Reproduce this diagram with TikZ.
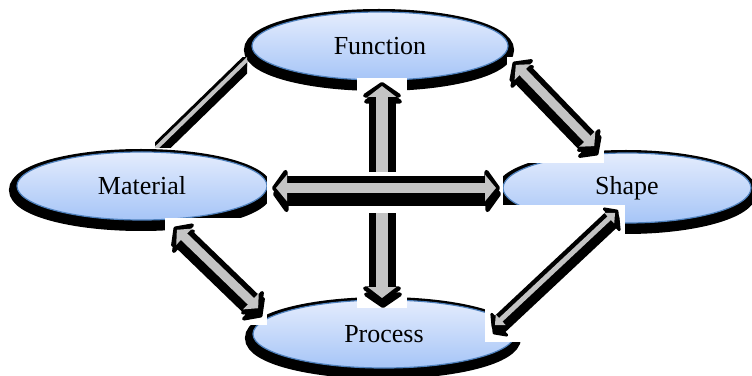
\documentclass[tikz,border=0pt]{standalone}
\usepackage{fontspec}
\setmainfont{Liberation Serif}
\usetikzlibrary{shapes.geometric,arrows.meta}

\definecolor{bubbletop}{RGB}{228,236,253}
\definecolor{bubblebottom}{RGB}{166,197,247}
\definecolor{bubbleedge}{RGB}{79,129,189}
\definecolor{coregray}{RGB}{196,196,196}

\begin{document}
\begin{tikzpicture}[x=1pt, y=1pt,
            every node/.style={font=\fontsize{26}{30}\selectfont},
            bubble/.style={ellipse, inner sep=0pt, draw=bubbleedge, line width=1.2pt,
                top color=bubbletop, bottom color=bubblebottom,
                preaction={draw=black, fill=black, line width=14pt,
                    transform canvas={shift={(-1pt,-4pt)}}}},
            gap/.style={fill=white},
            casing/.style n args={3}{draw=black, line width=#1,
                {Triangle[width=#2,length=#3,round]}-{Triangle[width=#2,length=#3,round]}},
            lifted/.style={transform canvas={shift={(1pt,-6pt)}}},
            core/.style n args={3}{draw=coregray, line width=#1,
                {Triangle[width=#2,length=#3]}-{Triangle[width=#2,length=#3]},
                shorten <=4pt, shorten >=4pt}]

    \useasboundingbox (0,0) rectangle (752,375);

    % the four ellipses
    \node[bubble, minimum width=256, minimum height=68] (fun) at (380,329) {Function};
    \node[bubble, minimum width=250, minimum height=68] (mat) at (142,189) {Material};
    \node[bubble, minimum width=248, minimum height=70] (shp) at (627,187) {Shape};
    \node[bubble, minimum width=262, minimum height=68] (pro) at (384,41) {Process};

    % arrow ends
    \coordinate (fm-a) at (258,326);
    \coordinate (fm-b) at (146,217);
    \coordinate (fs-a) at (513,313);
    \coordinate (fs-b) at (597,226);
    \coordinate (mp-a) at (174,148);
    \coordinate (mp-b) at (261,64);
    \coordinate (sp-a) at (618,165);
    \coordinate (sp-b) at (492,47);
    \coordinate (fp-a) at (382,293);
    \coordinate (fp-b) at (382,73);
    \coordinate (ms-a) at (272,187);
    \coordinate (ms-b) at (500,187);

    % Function -- Material
    \fill[gap] (155,317) rectangle (247,227);
    \begin{scope}
        \clip (155,317) rectangle (247,227);
        \draw[casing={10pt}{22pt}{10pt}, lifted] (fm-a) -- (fm-b);
        \draw[casing={10pt}{22pt}{10pt}] (fm-a) -- (fm-b);
        \draw[core={4pt}{12pt}{7pt}] (fm-a) -- (fm-b);
    \end{scope}

    % Function -- Shape
    \fill[gap] (507,318) rectangle (604,212);
    \draw[casing={20pt}{38pt}{14pt}, lifted] (fs-a) -- (fs-b);
    \draw[casing={20pt}{38pt}{14pt}] (fs-a) -- (fs-b);
    \draw[core={9pt}{22pt}{10pt}] (fs-a) -- (fs-b);

    % Material -- Process
    \fill[gap] (165,157) rectangle (267,50);
    \draw[casing={20pt}{38pt}{14pt}, lifted] (mp-a) -- (mp-b);
    \draw[casing={20pt}{38pt}{14pt}] (mp-a) -- (mp-b);
    \draw[core={9pt}{22pt}{10pt}] (mp-a) -- (mp-b);

    % Shape -- Process
    \fill[gap] (485,170) rectangle (625,33);
    \draw[casing={14pt}{28pt}{11pt}, lifted] (sp-a) -- (sp-b);
    \draw[casing={14pt}{28pt}{11pt}] (sp-a) -- (sp-b);
    \draw[core={5pt}{14pt}{8pt}] (sp-a) -- (sp-b);

    % Function -- Process
    \fill[gap] (357,297) rectangle (407,67);
    \draw[casing={26pt}{46pt}{16pt}, lifted] (fp-a) -- (fp-b);
    \draw[casing={26pt}{46pt}{16pt}] (fp-a) -- (fp-b);
    \draw[core={12pt}{28pt}{11pt}] (fp-a) -- (fp-b);

    % Material -- Shape
    \fill[gap] (267,203) rectangle (503,162);
    \draw[casing={24pt}{44pt}{16pt}, lifted] (ms-a) -- (ms-b);
    \draw[casing={24pt}{44pt}{16pt}] (ms-a) -- (ms-b);
    \draw[core={10pt}{26pt}{11pt}] (ms-a) -- (ms-b);
\end{tikzpicture}
\end{document}
